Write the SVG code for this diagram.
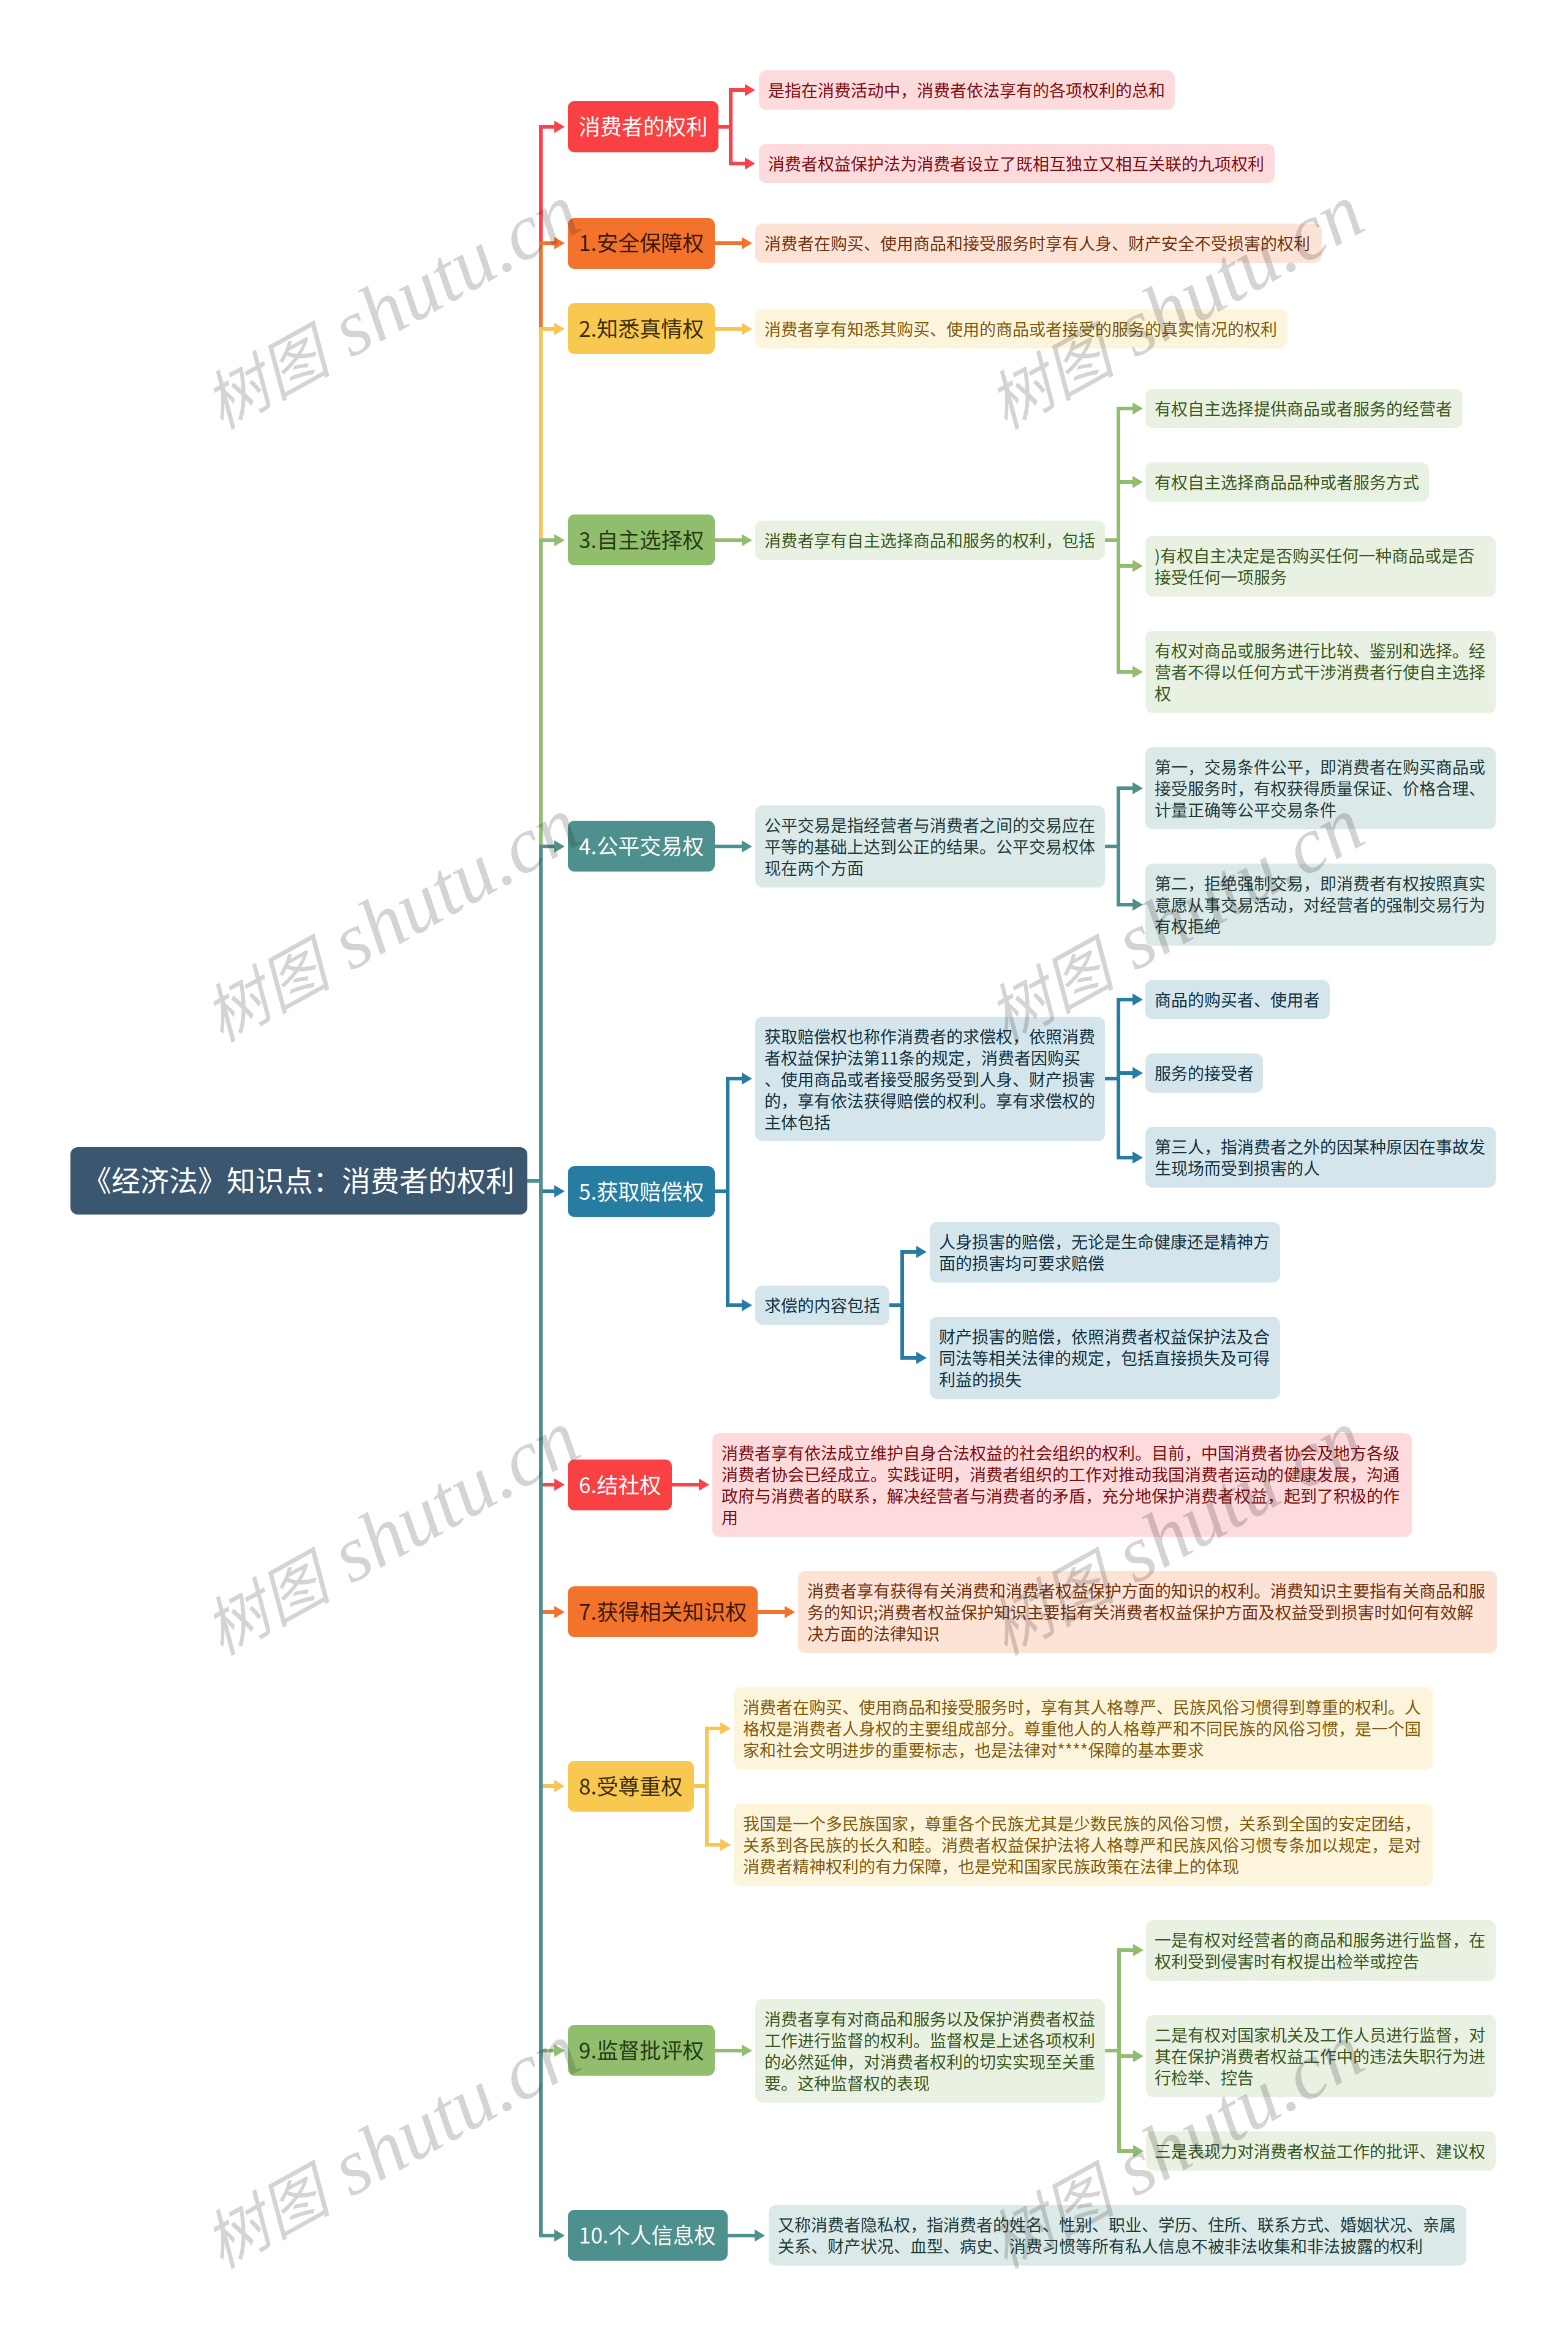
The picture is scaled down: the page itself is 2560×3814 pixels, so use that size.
<svg xmlns="http://www.w3.org/2000/svg" width="2560" height="3814" viewBox="0 0 2560 3814">
<style>
text{font-family:"Noto Sans CJK SC","Liberation Sans",sans-serif;white-space:pre}
.t1{font-size:35px;transform:translate(0,1px)}.t2{font-size:27px;transform:translate(0,2px)}.root{font-size:47px;fill:#fff;transform:translate(0,1px)}
.c path{fill:none;stroke-width:6;stroke-linejoin:miter}
.red{stroke:#f94249}.org{stroke:#f3722c}.yel{stroke:#f7c652}.grn{stroke:#90bd6f}.tea{stroke:#4e908d}.blu{stroke:#277da1}
.wm{font-family:"Liberation Serif","Noto Sans CJK SC",serif;font-style:italic;font-size:104px;fill:rgba(40,40,40,.2)}
.wl{font-size:130px}
.nr{fill:#f94144}.no{fill:#f3722c}.ny{fill:#f8c850}.ng{fill:#90be6d}.nt{fill:#4d908e}.nb{fill:#277da1}
.lr{fill:#fddadb}.lo{fill:#fde3d5}.ly{fill:#fdf4dc}.lg{fill:#e9f2e2}.lt{fill:#dbe9e8}.lb{fill:#d4e5ec}
.xr{fill:#7a0d11}.xo{fill:#6e3210}.xy{fill:#7d5a0c}.xg{fill:#38561d}.xt{fill:#1f3a39}.xb{fill:#10303f}
.w{fill:#fff}.do{fill:#3b1a08}.dy{fill:#3a2c08}.dg{fill:#263b14}
</style>
<defs>
<marker id="ar" markerUnits="userSpaceOnUse" markerWidth="18" markerHeight="22" refX="0" refY="10" orient="auto"><path d="M0 0L17 10L0 20Z" fill="#f94249"/></marker>
<marker id="ao" markerUnits="userSpaceOnUse" markerWidth="18" markerHeight="22" refX="0" refY="10" orient="auto"><path d="M0 0L17 10L0 20Z" fill="#f3722c"/></marker>
<marker id="ay" markerUnits="userSpaceOnUse" markerWidth="18" markerHeight="22" refX="0" refY="10" orient="auto"><path d="M0 0L17 10L0 20Z" fill="#f7c652"/></marker>
<marker id="ag" markerUnits="userSpaceOnUse" markerWidth="18" markerHeight="22" refX="0" refY="10" orient="auto"><path d="M0 0L17 10L0 20Z" fill="#90bd6f"/></marker>
<marker id="at" markerUnits="userSpaceOnUse" markerWidth="18" markerHeight="22" refX="0" refY="10" orient="auto"><path d="M0 0L17 10L0 20Z" fill="#4e908d"/></marker>
<marker id="ab" markerUnits="userSpaceOnUse" markerWidth="18" markerHeight="22" refX="0" refY="10" orient="auto"><path d="M0 0L17 10L0 20Z" fill="#277da1"/></marker>
</defs>
<rect width="2560" height="3814" fill="#fff"/>
<g id="connectors" class="c">
<path class="red" marker-end="url(#ar)" d="M861 1928H883V207H905"/>
<path class="org" marker-end="url(#ao)" d="M861 1928H883V397H905"/>
<path class="yel" marker-end="url(#ay)" d="M861 1928H883V537H905"/>
<path class="grn" marker-end="url(#ag)" d="M861 1928H883V882H905"/>
<path class="tea" marker-end="url(#at)" d="M861 1928H883V1382H905"/>
<path class="blu" marker-end="url(#ab)" d="M861 1928H883V1945H905"/>
<path class="red" marker-end="url(#ar)" d="M861 1928H883V2424H905"/>
<path class="org" marker-end="url(#ao)" d="M861 1928H883V2632H905"/>
<path class="yel" marker-end="url(#ay)" d="M861 1928H883V2916H905"/>
<path class="grn" marker-end="url(#ag)" d="M861 1928H883V3348H905"/>
<path class="tea" marker-end="url(#at)" d="M861 1928H883V3650H905"/>
<path class="red" marker-end="url(#ar)" d="M1173 207H1193V147H1216"/>
<path class="red" marker-end="url(#ar)" d="M1173 207H1193V267H1216"/>
<path class="org" marker-end="url(#ao)" d="M1167 397H1211"/>
<path class="yel" marker-end="url(#ay)" d="M1167 537H1211"/>
<path class="grn" marker-end="url(#ag)" d="M1167 882H1211"/>
<path class="grn" marker-end="url(#ag)" d="M1804 882H1826V667H1849"/>
<path class="grn" marker-end="url(#ag)" d="M1804 882H1826V787H1849"/>
<path class="grn" marker-end="url(#ag)" d="M1804 882H1826V924H1849"/>
<path class="grn" marker-end="url(#ag)" d="M1804 882H1826V1097H1849"/>
<path class="tea" marker-end="url(#at)" d="M1167 1382H1211"/>
<path class="tea" marker-end="url(#at)" d="M1804 1382H1826V1287H1849"/>
<path class="tea" marker-end="url(#at)" d="M1804 1382H1826V1477H1849"/>
<path class="blu" marker-end="url(#ab)" d="M1167 1945H1188V1761H1211"/>
<path class="blu" marker-end="url(#ab)" d="M1167 1945H1188V2131H1211"/>
<path class="blu" marker-end="url(#ab)" d="M1804 1761H1826V1632H1849"/>
<path class="blu" marker-end="url(#ab)" d="M1804 1761H1826V1752H1849"/>
<path class="blu" marker-end="url(#ab)" d="M1804 1761H1826V1890H1849"/>
<path class="blu" marker-end="url(#ab)" d="M1452 2131H1473V2044H1496"/>
<path class="blu" marker-end="url(#ab)" d="M1452 2131H1473V2217H1496"/>
<path class="red" marker-end="url(#ar)" d="M1097 2424H1141"/>
<path class="org" marker-end="url(#ao)" d="M1237 2632H1281"/>
<path class="yel" marker-end="url(#ay)" d="M1133 2916H1154V2822H1176"/>
<path class="yel" marker-end="url(#ay)" d="M1133 2916H1154V3012H1176"/>
<path class="grn" marker-end="url(#ag)" d="M1167 3348H1211"/>
<path class="grn" marker-end="url(#ag)" d="M1804 3348H1827V3184H1850"/>
<path class="grn" marker-end="url(#ag)" d="M1804 3348H1827V3357H1850"/>
<path class="grn" marker-end="url(#ag)" d="M1804 3348H1827V3512H1850"/>
<path class="tea" marker-end="url(#at)" d="M1188 3650H1232"/>
</g>
<g id="root"><rect x="115" y="1873" width="746" height="110" rx="12" fill="#3b566f"/><text class="root" x="135" y="1944">《经济法》知识点：消费者的权利</text></g>

<g id="n0"><rect class="nr" x="927" y="165" width="246" height="83.5" rx="11"/><text class="t1 w" x="945" y="219">消费者的权利</text></g>
<g id="n0a"><rect class="lr" x="1239" y="115" width="679" height="64" rx="12"/><text class="t2 xr" x="1254" y="156">是指在消费活动中，消费者依法享有的各项权利的总和</text></g>
<g id="n0b"><rect class="lr" x="1239" y="235" width="842" height="64" rx="12"/><text class="t2 xr" x="1254" y="276">消费者权益保护法为消费者设立了既相互独立又相互关联的九项权利</text></g>

<g id="n1"><rect class="no" x="927" y="356" width="240" height="83" rx="11"/><text class="t1 do" x="945" y="409">1.安全保障权</text></g>
<g id="n1a"><rect class="lo" x="1233" y="365" width="925" height="64" rx="12"/><text class="t2 xo" x="1248" y="406">消费者在购买、使用商品和接受服务时享有人身、财产安全不受损害的权利</text></g>

<g id="n2"><rect class="ny" x="927" y="495" width="240" height="83" rx="11"/><text class="t1 dy" x="945" y="549">2.知悉真情权</text></g>
<g id="n2a"><rect class="ly" x="1233" y="505" width="869" height="64" rx="12"/><text class="t2 xy" x="1248" y="546">消费者享有知悉其购买、使用的商品或者接受的服务的真实情况的权利</text></g>

<g id="n3"><rect class="ng" x="927" y="840" width="240" height="83" rx="11"/><text class="t1 dg" x="945" y="894">3.自主选择权</text></g>
<g id="n3a"><rect class="lg" x="1233" y="850" width="571" height="64" rx="12"/><text class="t2 xg" x="1248" y="891">消费者享有自主选择商品和服务的权利，包括</text></g>
<g id="n3a1"><rect class="lg" x="1870" y="635" width="518" height="64" rx="12"/><text class="t2 xg" x="1885" y="676">有权自主选择提供商品或者服务的经营者</text></g>
<g id="n3a2"><rect class="lg" x="1870" y="755" width="463" height="64" rx="12"/><text class="t2 xg" x="1885" y="796">有权自主选择商品品种或者服务方式</text></g>
<g id="n3a3"><rect class="lg" x="1870" y="875" width="572" height="99" rx="12"/><text class="t2 xg" y="916"><tspan x="1885">)有权自主决定是否购买任何一种商品或是否</tspan><tspan x="1885" dy="35">接受任何一项服务</tspan></text></g>
<g id="n3a4"><rect class="lg" x="1870" y="1030" width="572" height="134" rx="12"/><text class="t2 xg" y="1071"><tspan x="1885">有权对商品或服务进行比较、鉴别和选择。经</tspan><tspan x="1885" dy="35">营者不得以任何方式干涉消费者行使自主选择</tspan><tspan x="1885" dy="35">权</tspan></text></g>

<g id="n4"><rect class="nt" x="927" y="1340" width="240" height="83" rx="11"/><text class="t1 w" x="945" y="1394">4.公平交易权</text></g>
<g id="n4a"><rect class="lt" x="1233" y="1315" width="571" height="134" rx="12"/><text class="t2 xt" y="1356"><tspan x="1248">公平交易是指经营者与消费者之间的交易应在</tspan><tspan x="1248" dy="35">平等的基础上达到公正的结果。公平交易权体</tspan><tspan x="1248" dy="35">现在两个方面</tspan></text></g>
<g id="n4a1"><rect class="lt" x="1870" y="1220" width="572" height="134" rx="12"/><text class="t2 xt" y="1261"><tspan x="1885">第一，交易条件公平，即消费者在购买商品或</tspan><tspan x="1885" dy="35">接受服务时，有权获得质量保证、价格合理、</tspan><tspan x="1885" dy="35">计量正确等公平交易条件</tspan></text></g>
<g id="n4a2"><rect class="lt" x="1870" y="1410" width="572" height="134" rx="12"/><text class="t2 xt" y="1451"><tspan x="1885">第二，拒绝强制交易，即消费者有权按照真实</tspan><tspan x="1885" dy="35">意愿从事交易活动，对经营者的强制交易行为</tspan><tspan x="1885" dy="35">有权拒绝</tspan></text></g>

<g id="n5"><rect class="nb" x="927" y="1904" width="240" height="83" rx="11"/><text class="t1 w" x="945" y="1958">5.获取赔偿权</text></g>
<g id="n5a"><rect class="lb" x="1233" y="1660" width="571" height="203" rx="12"/><text class="t2 xb" y="1701"><tspan x="1248">获取赔偿权也称作消费者的求偿权，依照消费</tspan><tspan x="1248" dy="35">者权益保护法第11条的规定，消费者因购买</tspan><tspan x="1248" dy="35">、使用商品或者接受服务受到人身、财产损害</tspan><tspan x="1248" dy="35">的，享有依法获得赔偿的权利。享有求偿权的</tspan><tspan x="1248" dy="35">主体包括</tspan></text></g>
<g id="n5a1"><rect class="lb" x="1870" y="1600" width="301" height="64" rx="12"/><text class="t2 xb" x="1885" y="1641">商品的购买者、使用者</text></g>
<g id="n5a2"><rect class="lb" x="1870" y="1720" width="192" height="64" rx="12"/><text class="t2 xb" x="1885" y="1761">服务的接受者</text></g>
<g id="n5a3"><rect class="lb" x="1870" y="1840" width="572" height="99" rx="12"/><text class="t2 xb" y="1881"><tspan x="1885">第三人，指消费者之外的因某种原因在事故发</tspan><tspan x="1885" dy="35">生现场而受到损害的人</tspan></text></g>
<g id="n5b"><rect class="lb" x="1233" y="2099" width="219" height="64" rx="12"/><text class="t2 xb" x="1248" y="2140">求偿的内容包括</text></g>
<g id="n5b1"><rect class="lb" x="1518" y="1995" width="572" height="99" rx="12"/><text class="t2 xb" y="2036"><tspan x="1533">人身损害的赔偿，无论是生命健康还是精神方</tspan><tspan x="1533" dy="35">面的损害均可要求赔偿</tspan></text></g>
<g id="n5b2"><rect class="lb" x="1518" y="2150" width="572" height="134" rx="12"/><text class="t2 xb" y="2191"><tspan x="1533">财产损害的赔偿，依照消费者权益保护法及合</tspan><tspan x="1533" dy="35">同法等相关法律的规定，包括直接损失及可得</tspan><tspan x="1533" dy="35">利益的损失</tspan></text></g>

<g id="n6"><rect class="nr" x="927" y="2383" width="170" height="83" rx="11"/><text class="t1 w" x="945" y="2437">6.结社权</text></g>
<g id="n6a"><rect class="lr" x="1163" y="2340" width="1142" height="169" rx="12"/><text class="t2 xr" y="2381"><tspan x="1178">消费者享有依法成立维护自身合法权益的社会组织的权利。目前，中国消费者协会及地方各级</tspan><tspan x="1178" dy="35">消费者协会已经成立。实践证明，消费者组织的工作对推动我国消费者运动的健康发展，沟通</tspan><tspan x="1178" dy="35">政府与消费者的联系，解决经营者与消费者的矛盾，充分地保护消费者权益，起到了积极的作</tspan><tspan x="1178" dy="35">用</tspan></text></g>

<g id="n7"><rect class="no" x="927" y="2590" width="310" height="83" rx="11"/><text class="t1 do" x="945" y="2644">7.获得相关知识权</text></g>
<g id="n7a"><rect class="lo" x="1303" y="2565" width="1141" height="134" rx="12"/><text class="t2 xo" y="2606"><tspan x="1318">消费者享有获得有关消费和消费者权益保护方面的知识的权利。消费知识主要指有关商品和服</tspan><tspan x="1318" dy="35">务的知识;消费者权益保护知识主要指有关消费者权益保护方面及权益受到损害时如何有效解</tspan><tspan x="1318" dy="35">决方面的法律知识</tspan></text></g>

<g id="n8"><rect class="ny" x="927" y="2875" width="206" height="83" rx="11"/><text class="t1 dy" x="945" y="2929">8.受尊重权</text></g>
<g id="n8a"><rect class="ly" x="1198" y="2755" width="1141" height="134" rx="12"/><text class="t2 xy" y="2796"><tspan x="1213">消费者在购买、使用商品和接受服务时，享有其人格尊严、民族风俗习惯得到尊重的权利。人</tspan><tspan x="1213" dy="35">格权是消费者人身权的主要组成部分。尊重他人的人格尊严和不同民族的风俗习惯，是一个国</tspan><tspan x="1213" dy="35">家和社会文明进步的重要标志，也是法律对****保障的基本要求</tspan></text></g>
<g id="n8b"><rect class="ly" x="1198" y="2945" width="1141" height="134" rx="12"/><text class="t2 xy" y="2986"><tspan x="1213">我国是一个多民族国家，尊重各个民族尤其是少数民族的风俗习惯，关系到全国的安定团结，</tspan><tspan x="1213" dy="35">关系到各民族的长久和睦。消费者权益保护法将人格尊严和民族风俗习惯专条加以规定，是对</tspan><tspan x="1213" dy="35">消费者精神权利的有力保障，也是党和国家民族政策在法律上的体现</tspan></text></g>

<g id="n9"><rect class="ng" x="927" y="3306" width="240" height="83" rx="11"/><text class="t1 dg" x="945" y="3360">9.监督批评权</text></g>
<g id="n9a"><rect class="lg" x="1233" y="3264" width="571" height="169" rx="12"/><text class="t2 xg" y="3305"><tspan x="1248">消费者享有对商品和服务以及保护消费者权益</tspan><tspan x="1248" dy="35">工作进行监督的权利。监督权是上述各项权利</tspan><tspan x="1248" dy="35">的必然延伸，对消费者权利的切实实现至关重</tspan><tspan x="1248" dy="35">要。这种监督权的表现</tspan></text></g>
<g id="n9a1"><rect class="lg" x="1871" y="3135" width="571" height="99" rx="12"/><text class="t2 xg" y="3176"><tspan x="1885">一是有权对经营者的商品和服务进行监督，在</tspan><tspan x="1885" dy="35">权利受到侵害时有权提出检举或控告</tspan></text></g>
<g id="n9a2"><rect class="lg" x="1871" y="3290" width="571" height="134" rx="12"/><text class="t2 xg" y="3331"><tspan x="1885">二是有权对国家机关及工作人员进行监督，对</tspan><tspan x="1885" dy="35">其在保护消费者权益工作中的违法失职行为进</tspan><tspan x="1885" dy="35">行检举、控告</tspan></text></g>
<g id="n9a3"><rect class="lg" x="1871" y="3480" width="571" height="64" rx="12"/><text class="t2 xg" x="1885" y="3521">三是表现力对消费者权益工作的批评、建议权</text></g>

<g id="n10"><rect class="nt" x="927" y="3608" width="261" height="83" rx="11"/><text class="t1 w" x="945" y="3662">10.个人信息权</text></g>
<g id="n10a"><rect class="lt" x="1255" y="3600" width="1139" height="99" rx="12"/><text class="t2 xt" y="3641"><tspan x="1270">又称消费者隐私权，指消费者的姓名、性别、职业、学历、住所、联系方式、婚姻状况、亲属</tspan><tspan x="1270" dy="35">关系、财产状况、血型、病史、消费习惯等所有私人信息不被非法收集和非法披露的权利</tspan></text></g>

<g id="watermark">
<text class="wm" transform="translate(361,702) rotate(-29)">树图 <tspan class="wl" dx="8">shutu.cn</tspan></text>
<text class="wm" transform="translate(1641,702) rotate(-29)">树图 <tspan class="wl" dx="8">shutu.cn</tspan></text>
<text class="wm" transform="translate(361,1703) rotate(-29)">树图 <tspan class="wl" dx="8">shutu.cn</tspan></text>
<text class="wm" transform="translate(1641,1703) rotate(-29)">树图 <tspan class="wl" dx="8">shutu.cn</tspan></text>
<text class="wm" transform="translate(361,2704) rotate(-29)">树图 <tspan class="wl" dx="8">shutu.cn</tspan></text>
<text class="wm" transform="translate(1641,2704) rotate(-29)">树图 <tspan class="wl" dx="8">shutu.cn</tspan></text>
<text class="wm" transform="translate(361,3705) rotate(-29)">树图 <tspan class="wl" dx="8">shutu.cn</tspan></text>
<text class="wm" transform="translate(1641,3705) rotate(-29)">树图 <tspan class="wl" dx="8">shutu.cn</tspan></text>
</g>
</svg>
